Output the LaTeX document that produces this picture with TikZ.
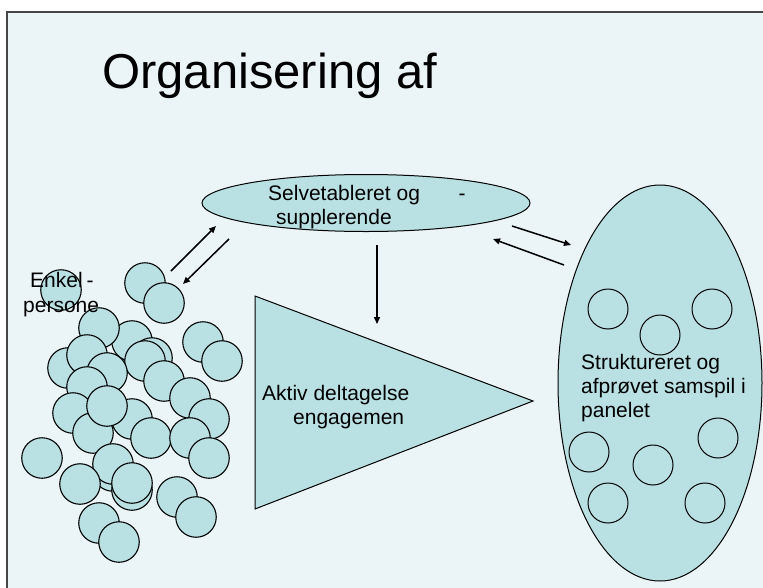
\documentclass[tikz,border=0pt]{standalone}
\usepackage{fontspec}
\setmainfont{Liberation Sans}
\usetikzlibrary{shapes.geometric,arrows.meta}
\definecolor{bgc}{RGB}{235,245,247}
\definecolor{shapec}{RGB}{185,224,227}
\definecolor{framec}{RGB}{70,70,70}
\tikzset{
  ball/.style={circle,draw=black,fill=shapec,line width=1.1pt,minimum size=40.5pt,inner sep=0pt},
  ring/.style={circle,draw=black,line width=1pt,minimum size=40pt,inner sep=0pt},
  lbl/.style={anchor=base west,inner sep=0pt,font=\fontsize{21}{24}\selectfont},
  arr/.style={line width=1.5pt,-{Triangle[length=7pt,width=6pt]}},
  oval/.style={ellipse,draw=black,fill=shapec,line width=1pt,inner sep=0pt}
}
\begin{document}
\begin{tikzpicture}[x=1pt,y=-1pt]
\useasboundingbox (0,0) rectangle (763,587);
\clip (0,0) rectangle (763,587);
\fill[white] (0,0) rectangle (763,587);
\draw[framec,fill=bgc,line width=1.5pt] (7,12) rectangle (790,610);
% title
\node[anchor=base west,inner sep=0pt,font=\fontsize{49}{56}\selectfont] (title) at (102,88) {Organisering af};
% top ellipse
\node[oval,minimum width=328pt,minimum height=57pt] (top) at (366,203) {};
\node[lbl] (t1) at (268,200) {Selvetableret og};
\node[lbl,anchor=base] (t1d) at (462,200) {-};
\node[lbl] (t2) at (276,224) {supplerende};
% triangle
\coordinate (trtl) at (255,296);
\coordinate (trap) at (533,401);
\coordinate (trbl) at (255,509);
\draw[fill=shapec,line width=1pt] (trtl) -- (trap) -- (trbl) -- cycle;
\node[lbl] (a1) at (262,400) {Aktiv deltagelse};
\node[lbl] (a2) at (293,424) {engagemen};
% right ellipse
\node[oval,minimum width=204pt,minimum height=396pt] (panel) at (660,383) {};
\foreach \n/\x/\y in {r1/608/309, r2/712/309, r3/660/335, r4/718/438, r5/589/452, r6/653/465, r7/608/503, r8/705/503}
  \node[ring] (\n) at (\x,\y) {};
\node[lbl] (s1) at (581,369) {Struktureret og};
\node[lbl] (s2) at (581,393) {afprøvet samspil i};
\node[lbl] (s3) at (581,417) {panelet};
% left cluster
\foreach \n/\x/\y in {cA/61/290, cB/145/283, cC/164/303, cD/132/341, cE/99/328, cF/68/368, cG/87/355, cH/152/358, cI/145/361, cJ/107/373, cK/164/381, cL/203/342, cM/222/361, cN/87/387, cO/73/413, cP/132/419, cQ/93/433, cR/107/406, cS/190/398, cT/209/419, cU/151/438, cV/190/438, cW/209/458, cX/42/458, cY/113/471, cZ/113/464, cAA/80/484, cAB/132/490, cAC/132/483, cAD/177/497, cAE/196/517, cAF/99/523, cAG/119/542}
  \node[ball] (\n) at (\x,\y) {};
\node[lbl] (e1) at (30,287) {Enkel};
\node[lbl,anchor=base] (e1d) at (90,287) {-};
\node[lbl] (e2) at (23,312) {persone};
% arrows
\coordinate (l1s) at (171,271); \coordinate (l1e) at (216,226);
\coordinate (l2s) at (229,239); \coordinate (l2e) at (183,284);
\coordinate (r1s) at (512,226); \coordinate (r1e) at (571,245);
\coordinate (r2s) at (564,265); \coordinate (r2e) at (493,239);
\coordinate (vs) at (377,245); \coordinate (ve) at (377,324);
\draw[arr] (l1s) -- (l1e);
\draw[arr] (l2s) -- (l2e);
\draw[arr] (r1s) -- (r1e);
\draw[arr] (r2s) -- (r2e);
\draw[arr] (vs) -- (ve);
\end{tikzpicture}
\end{document}
